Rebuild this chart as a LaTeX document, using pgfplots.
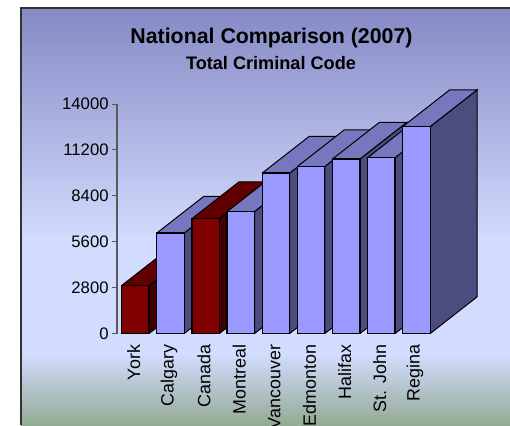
\documentclass[border=0pt]{standalone}
\usepackage{pgfplots}
\pgfplotsset{compat=1.18}
\usepackage{fontspec}
\setmainfont{Liberation Sans}

\definecolor{barface}{HTML}{9999FF}
\definecolor{barside}{HTML}{4C4C7F}
\definecolor{bartop}{HTML}{7777BF}
\definecolor{redface}{HTML}{800000}
\definecolor{redside}{HTML}{400000}
\definecolor{redtop}{HTML}{600000}
\definecolor{bga}{HTML}{8589C4}
\definecolor{bgb}{HTML}{D2DCFE}
\definecolor{bgc}{HTML}{93AA93}

% one 3D column: position, value, colour prefix
% half width 0.39 category, depth 47px x 37px in axis units
\newcommand{\column}[3]{%
  \pgfmathsetmacro\xa{#1-0.39}%
  \pgfmathsetmacro\xb{#1+0.39}%
  \pgfmathsetmacro\xc{\xa+1.337}%
  \pgfmathsetmacro\xd{\xb+1.337}%
  \pgfmathsetmacro\yb{#2+2240}%
  \addplot[draw=black,line width=0.75pt,line join=miter,fill=#3side] coordinates
    {(\xb,0) (\xd,2240) (\xd,\yb) (\xb,#2) (\xb,0)};
  \addplot[draw=black,line width=0.75pt,line join=miter,fill=#3top] coordinates
    {(\xa,#2) (\xb,#2) (\xd,\yb) (\xc,\yb) (\xa,#2)};
  \addplot[draw=black,line width=1pt,line join=miter,fill=#3face] coordinates
    {(\xa,0) (\xb,0) (\xb,#2) (\xa,#2) (\xa,0)};
}

\begin{document}
\begin{tikzpicture}[x=0.75pt,y=0.75pt]
\clip (0,0) rectangle (510,425);
\fill[white] (0,0) rectangle (510,425);
% panel background, y measured up from the bottom of the image
\shade[top color=bga,bottom color=bgb] (21,185) rectangle (510,417);
\fill[bgb] (21,70) rectangle (510,185.5);
\shade[top color=bgb,bottom color=bgc] (21,0) rectangle (510,70.5);
\draw[black!80,line width=0.9pt] (21,0) -- (21,417) -- (510,417);

\begin{axis}[
    at={(87.75pt,68.6pt)},
    anchor=south west,
    scale only axis,
    width=272.25pt,
    height=172.1pt,
    clip=false,
    xmin=-0.523, xmax=9.807,
    ymin=0, ymax=14000,
    axis y line=left,
    axis x line=bottom,
    axis line style={-},
    x axis line style={draw=none},
    y axis line style={draw=black!65,line width=1pt},
    ytick={0,2800,5600,8400,11200,14000},
    tick align=outside,
    major tick length=4pt,
    y tick style={draw=black!65,line width=0.8pt},
    x tick style={draw=none},
    xtick={0,1,2,3,4,5,6,7,8},
    xticklabels={York,Calgary,Canada,Montreal,Vancouver,Edmonton,Halifax,St. John,Regina},
    x tick label style={rotate=90,anchor=east,font=\fontsize{13.4}{15}\selectfont,xshift=-1pt,yshift=1.2pt},
    y tick label style={font=\fontsize{12.5}{14}\selectfont,xshift=1.2pt},
    scaled y ticks=false,
    /pgf/number format/assume math mode=true,
    /pgf/number format/1000 sep={},
]
\column{0}{2930}{red}
\column{1}{6130}{bar}
\column{2}{7010}{red}
\column{3}{7440}{bar}
\column{4}{9790}{bar}
\column{5}{10190}{bar}
\column{6}{10650}{bar}
\column{7}{10730}{bar}
\column{8}{12630}{bar}
\end{axis}

\node[font=\bfseries\fontsize{16}{18}\selectfont,anchor=center] at (271.5,387) {National Comparison (2007)};
\node[font=\bfseries\fontsize{13.6}{15}\selectfont,anchor=center] at (271,362) {Total Criminal Code};
\end{tikzpicture}
\end{document}
